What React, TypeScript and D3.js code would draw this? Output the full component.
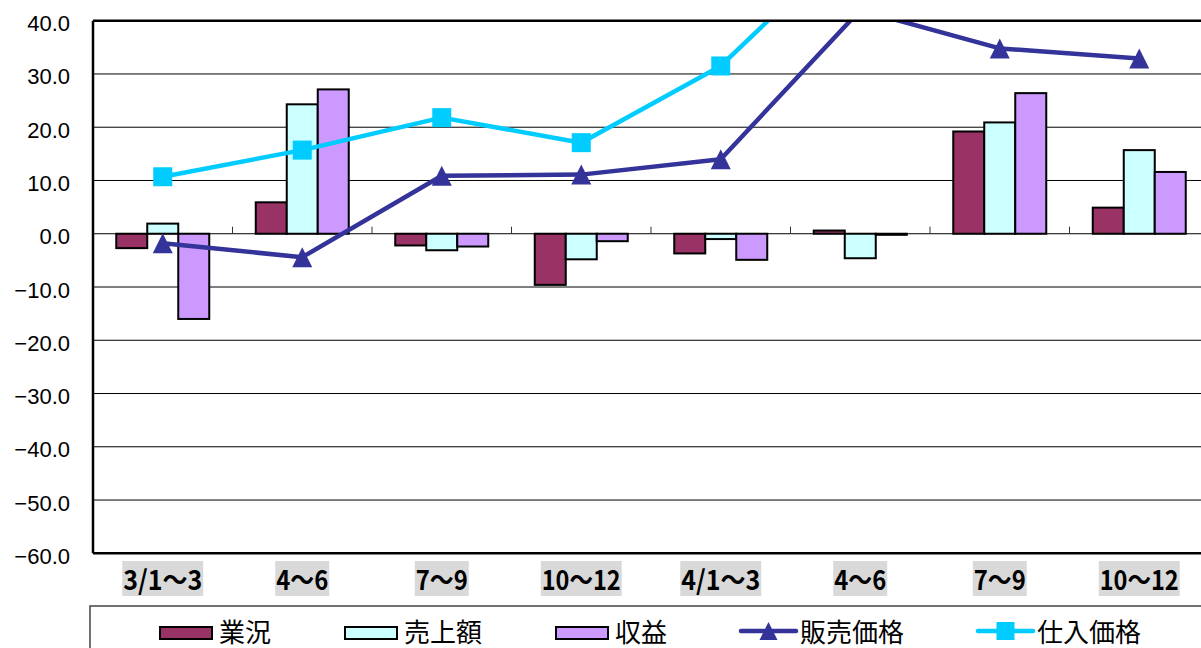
import React from "react";
import * as d3 from "d3";

const categories = ["3/1～3", "4～6", "7～9", "10～12", "4/1～3", "4～6", "7～9", "10～12"];
const gyokyo = [-2.7, 5.9, -2.2, -9.6, -3.7, 0.6, 19.2, 4.9];
const uriage = [1.9, 24.3, -3.1, -4.8, -1.0, -4.6, 20.9, 15.7];
const shueki = [-16.0, 27.1, -2.4, -1.4, -4.9, -0.2, 26.4, 11.6];
const hanbaiKakaku = [-1.8, -4.4, 10.9, 11.1, 14.0, 42.0, 34.8, 32.9];
const shiireKakaku = [10.7, 15.7, 21.8, 17.1, 31.5, 56.6, 55.0, 52.0];
const yTicks = [-60, -50, -40, -30, -20, -10, 0, 10, 20, 30, 40];

const barSeries = [
  { name: "業況", values: gyokyo, color: "#993366" },
  { name: "売上額", values: uriage, color: "#CCFFFF" },
  { name: "収益", values: shueki, color: "#CC99FF" },
];
const lineSeries = [
  { name: "販売価格", values: hanbaiKakaku, color: "#333399", marker: "triangle" },
  { name: "仕入価格", values: shiireKakaku, color: "#00CCFF", marker: "square" },
];

const W = 1201;
const H = 648;
const plot = { left: 93, top: 20.7, bottom: 553.3, right: 1209 };
const catFont = 27;

function textUnits(s: string) {
  let u = 0;
  for (const ch of s) u += ch.charCodeAt(0) < 0x2000 ? 0.5 : 1;
  return u;
}

function Marker({ type, cx, cy, color, size }: { type: string; cx: number; cy: number; color: string; size: number }) {
  if (type === "square") {
    return <rect x={cx - size / 2} y={cy - size / 2} width={size} height={size} fill={color} />;
  }
  const h = size;
  return (
    <path
      d={`M${cx},${cy - h / 2}L${cx + size / 2},${cy + h / 2}L${cx - size / 2},${cy + h / 2}Z`}
      fill={color}
    />
  );
}

export default function App() {
  const x = d3
    .scaleBand<number>()
    .domain(d3.range(categories.length))
    .range([plot.left, plot.right])
    .paddingInner(0)
    .paddingOuter(0);
  const xs = d3
    .scaleBand<string>()
    .domain(barSeries.map((s) => s.name))
    .range([0, x.bandwidth()])
    .paddingInner(0)
    .paddingOuter(0.75);
  const y = d3.scaleLinear().domain([-60, 40]).range([plot.bottom, plot.top]);
  const fmt = d3.format(".1f");
  const cx = (i: number) => (x(i) as number) + x.bandwidth() / 2;
  const line = d3
    .line<number>()
    .x((_, i) => cx(i))
    .y((d) => y(d));

  // legend layout
  const legendItems = [
    ...barSeries.map((s) => ({ ...s, kind: "bar", marker: "" })),
    ...lineSeries.map((s) => ({ ...s, kind: "line" })),
  ];
  const legendFont = 26;
  const swW = 52;
  let lx = 160;
  const legendPos = legendItems.map((it) => {
    const pos = lx;
    lx += swW + 7 + it.name.length * legendFont + 74;
    return pos;
  });
  const legendY = 632;

  return (
    <svg
      width={W}
      height={H}
      style={{ position: "absolute", left: 0, top: 0, background: "#fff" }}
      fontFamily="'Liberation Sans', Arial, sans-serif"
    >
      <defs>
        <clipPath id="plotClip">
          <rect x={plot.left} y={plot.top} width={W - plot.left} height={plot.bottom - plot.top} />
        </clipPath>
      </defs>
      <rect x={0} y={0} width={W} height={H} fill="#fff" />

      {/* gridlines */}
      {yTicks.map((t) => (
        <line key={t} x1={plot.left} x2={W} y1={y(t)} y2={y(t)} stroke="#000" strokeWidth={1} />
      ))}

      {/* y tick labels */}
      {yTicks.map((t) => (
        <text
          key={"l" + t}
          x={70}
          y={y(t) + 3}
          textAnchor="end"
          dominantBaseline="central"
          fontSize={22}
          fill="#000"
        >
          {fmt(t)}
        </text>
      ))}

      {/* category ticks on zero line */}
      {d3.range(1, categories.length).map((i) => (
        <line
          key={"t" + i}
          x1={x(i) as number}
          x2={x(i) as number}
          y1={y(0) - 7}
          y2={y(0)}
          stroke="#333"
          strokeWidth={1}
        />
      ))}

      {/* bars */}
      <g clipPath="url(#plotClip)">
        {barSeries.map((s) =>
          s.values.map((v, i) => {
            const bx = (x(i) as number) + (xs(s.name) as number);
            const y0 = y(0);
            const yv = y(v);
            return (
              <rect
                key={s.name + i}
                x={bx}
                y={Math.min(y0, yv)}
                width={xs.bandwidth()}
                height={Math.abs(yv - y0)}
                fill={s.color}
                stroke="#000"
                strokeWidth={2}
              />
            );
          })
        )}
      </g>

      {/* lines */}
      <g clipPath="url(#plotClip)">
        {lineSeries.map((s) => (
          <g key={s.name}>
            <path d={line(s.values) || ""} fill="none" stroke={s.color} strokeWidth={4.5} strokeLinejoin="round" />
            {s.values.map((v, i) => (
              <Marker key={i} type={s.marker} cx={cx(i)} cy={y(v)} color={s.color} size={s.marker === "square" ? 19 : 20} />
            ))}
          </g>
        ))}
      </g>

      {/* plot border */}
      <line x1={plot.left} x2={plot.left} y1={plot.top} y2={plot.bottom} stroke="#000" strokeWidth={2.5} />
      <line x1={plot.left} x2={W} y1={plot.top} y2={plot.top} stroke="#000" strokeWidth={2.5} />
      <line x1={plot.left} x2={W} y1={plot.bottom} y2={plot.bottom} stroke="#000" strokeWidth={2.5} />

      {/* category labels */}
      {categories.map((c, i) => {
        const w = textUnits(c) * catFont;
        return (
          <g key={"c" + i}>
            <rect x={cx(i) - w / 2} y={561} width={w} height={35} fill="#D9D9D9" />
            <text
              x={cx(i)}
              y={578.5}
              textAnchor="middle"
              dominantBaseline="central"
              fontSize={catFont}
              fontWeight="bold"
              fontFamily="'Noto Sans CJK JP', sans-serif"
              textLength={w - 2}
              lengthAdjust="spacingAndGlyphs"
              fill="#000"
            >
              {c}
            </text>
          </g>
        );
      })}

      {/* legend */}
      <rect x={90} y={606} width={W} height={100} fill="#fff" stroke="#444" strokeWidth={1.5} />
      {legendItems.map((it, k) => {
        const px = legendPos[k];
        return (
          <g key={"lg" + k}>
            {it.kind === "bar" ? (
              <rect x={px} y={legendY - 5} width={swW} height={12} fill={it.color} stroke="#000" strokeWidth={2} />
            ) : (
              <g>
                <line x1={px} x2={px + swW + 3} y1={legendY - 1} y2={legendY - 1} stroke={it.color} strokeWidth={4.5} strokeLinecap="round" />
                <Marker type={it.marker} cx={px + (swW + 3) / 2} cy={legendY - 1} color={it.color} size={18} />
              </g>
            )}
            <text
              x={px + swW + 7}
              y={legendY - 2}
              dominantBaseline="central"
              fontSize={legendFont}
              fontFamily="'Noto Sans CJK JP', sans-serif"
              fill="#000"
            >
              {it.name}
            </text>
          </g>
        );
      })}
    </svg>
  );
}
